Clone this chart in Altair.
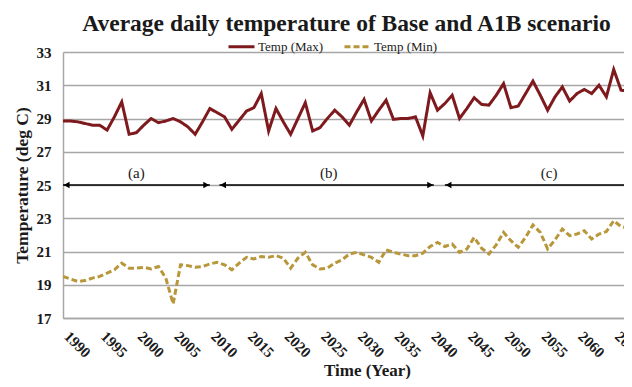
import altair as alt
import pandas as pd

SERIF = "Liberation Serif"

years = list(range(1990, 2068))
temp_max = [
    28.85, 28.85, 28.8, 28.7, 28.6, 28.6, 28.3, 29.1, 30.0, 28.05,
    28.15, 28.6, 29.0, 28.75, 28.85, 29.0, 28.8, 28.5, 28.05, 28.8,
    29.6, 29.35, 29.1, 28.35, 28.9, 29.45, 29.65, 30.5, 28.25, 29.6,
    28.8, 28.05, 29.0, 29.95, 28.25, 28.45, 29.0, 29.5, 29.1, 28.6,
    29.4, 30.15, 28.85, 29.5, 30.1, 28.95, 29.0, 29.0, 29.1, 27.95,
    30.55, 29.5, 29.9, 30.4, 29.0, 29.6, 30.25, 29.85, 29.8, 30.4,
    31.1, 29.65, 29.75, 30.5, 31.25, 30.4, 29.5, 30.3, 30.9, 30.05,
    30.5, 30.75, 30.5, 31.0, 30.3, 31.95, 30.7, 30.65,
]
temp_min = [
    19.5, 19.35, 19.2, 19.25, 19.4, 19.5, 19.7, 19.9, 20.3, 20.0,
    20.0, 20.05, 19.95, 20.1, 19.4, 17.85, 20.2, 20.15, 20.05, 20.1,
    20.25, 20.35, 20.2, 19.9, 20.3, 20.65, 20.55, 20.7, 20.65, 20.75,
    20.6, 20.0, 20.6, 20.95, 20.2, 19.95, 20.0, 20.3, 20.5, 20.85,
    20.95, 20.8, 20.65, 20.35, 21.1, 20.95, 20.85, 20.75, 20.75, 20.9,
    21.3, 21.55, 21.3, 21.45, 20.95, 21.15, 21.85, 21.2, 20.85, 21.4,
    22.15, 21.65, 21.25, 21.85, 22.6, 22.15, 21.15, 21.7, 22.35, 21.95,
    22.05, 22.25, 21.75, 22.05, 22.2, 22.85, 22.5, 22.4,
]
series_names = ["Temp (Max)", "Temp (Min)"]
series_colors = ["#7E1A1E", "#B8963A"]
series_dashes = [[1, 0], [6, 3]]

tick_years = list(range(1990, 2066, 5))
y_ticks = list(range(17, 34, 2))

period_labels = ["(a)", "(b)", "(c)"]
period_label_x = [2000.0, 2026.2, 2056.2]
period_label_y = [25.75, 25.75, 25.75]
period_start = [1990.0, 2011.3, 2042.0]
period_end = [2010.0, 2040.5, 2075.0]
arrow_level = 25.0
left_heads = [1990.5, 2011.8, 2042.5]
right_heads = [2009.5, 2040.0]

# ---- tables ----
lines_df = pd.DataFrame({
    "year": years * 2,
    "temp": temp_max + temp_min,
    "series": [series_names[0]] * len(years) + [series_names[1]] * len(years),
})
periods_df = pd.DataFrame({"year": period_start, "year_end": period_end,
                           "temp": [arrow_level] * 3})
left_df = pd.DataFrame({"year": left_heads, "temp": [arrow_level] * len(left_heads)})
right_df = pd.DataFrame({"year": right_heads, "temp": [arrow_level] * len(right_heads)})
labels_df = pd.DataFrame({"year": period_label_x, "temp": period_label_y, "label": period_labels})

GRID = "#A6A6A6"

x_axis = alt.Axis(
    values=tick_years, format="d", labelAngle=45, labelAlign="center",
    labelBaseline="middle", labelPadding=26, labelOffset=14,
    labelFont=SERIF, labelFontSize=15, labelFontWeight="bold", labelColor="#1a1a1a",
    labelFlush=False, labelOverlap=False, ticks=False, tickSize=0, grid=False,
    domainColor=GRID, domainWidth=1.5,
    title="Time (Year)", titleFont=SERIF, titleFontSize=17, titleFontWeight="bold",
    titleColor="#1a1a1a", titleX=304, titleY=52, titleAlign="center",
    titleBaseline="middle",
)
y_axis = alt.Axis(
    values=y_ticks, ticks=False, tickSize=0, labelPadding=12, labelFont=SERIF,
    labelFontSize=15, labelFontWeight="bold", labelColor="#1a1a1a", grid=True,
    gridColor=GRID, gridWidth=1.5, domainColor=GRID, domainWidth=1.5,
    title="Temperature (deg C)", titleFont=SERIF, titleFontSize=17.5,
    titleFontWeight="bold", titleColor="#1a1a1a", titleX=-41, titleY=133,
    titleAngle=-90, titleAlign="center", titleBaseline="middle",
)
x_scale = alt.Scale(domain=[1990, 2066.4], nice=False, zero=False)
y_scale = alt.Scale(domain=[17, 33], nice=False, zero=False)


def xq(field="year"):
    return alt.X(f"{field}:Q", scale=x_scale, axis=x_axis)


def yq():
    return alt.Y("temp:Q", scale=y_scale, axis=y_axis)


legend = alt.Legend(
    title=None, orient="none", legendX=164, legendY=-20, direction="horizontal",
    symbolType="stroke", symbolSize=676, symbolStrokeWidth=3, labelFont=SERIF,
    labelFontSize=13, labelColor="#1a1a1a", labelOffset=2, columnPadding=14,
)

lines = alt.Chart(lines_df).mark_line(strokeWidth=3, clip=True).encode(
    x=xq(),
    y=yq(),
    color=alt.Color("series:N", scale=alt.Scale(domain=series_names, range=series_colors),
                    legend=legend),
    strokeDash=alt.StrokeDash("series:N", scale=alt.Scale(domain=series_names, range=series_dashes),
                              legend=legend),
)

rules = alt.Chart(periods_df).mark_rule(color="black", strokeWidth=1.5, clip=True).encode(
    x=xq(), x2="year_end:Q", y=yq()
)
lheads = alt.Chart(left_df).mark_point(shape="triangle-left", filled=True, color="black",
                                       size=45, opacity=1).encode(x=xq(), y=yq())
rheads = alt.Chart(right_df).mark_point(shape="triangle-right", filled=True, color="black",
                                        size=45, opacity=1).encode(x=xq(), y=yq())
texts = alt.Chart(labels_df).mark_text(font=SERIF, fontSize=15, color="#1a1a1a",
                                       baseline="middle").encode(
    x=xq(), y=yq(), text="label:N"
)

chart = alt.layer(lines, rules, lheads, rheads, texts).properties(
    width=561,
    height=266,
    autosize=alt.AutoSizeParams(type="none"),
    padding={"left": 55, "top": 44, "right": 0, "bottom": 61},
    title=alt.Title(
        "Average daily temperature of Base and A1B scenario",
        font=SERIF, fontSize=23.5, fontWeight="bold", color="#1a1a1a",
        anchor="middle", dx=3, dy=5, offset=2,
    ),
    background="white",
).configure_view(stroke=None)

chart.save("out.html", embed_options={"renderer": "svg", "actions": False})
